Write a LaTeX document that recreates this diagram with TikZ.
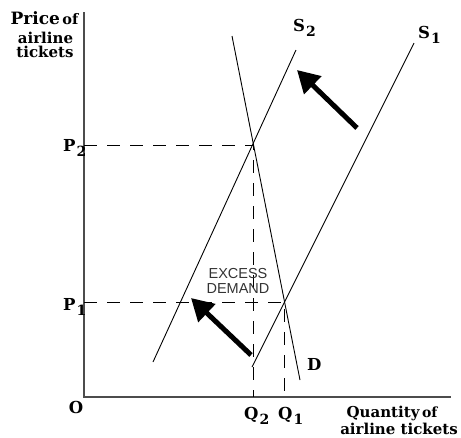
\documentclass[tikz,border=0pt]{standalone}
\usepackage{fontspec}
\setmainfont{DejaVu Serif}
\newfontfamily\sansf{Liberation Sans}
\usetikzlibrary{arrows.meta}
\newcommand\subl[2]{#1\kern1pt\raisebox{-5.5pt}{\fontsize{14}{14}\selectfont #2}}
\begin{document}
\begin{tikzpicture}[x=1pt,y=-1pt,
  axis/.style={draw=black!70,line width=2pt},
  curve/.style={draw=black,line width=0.9pt},
  guide/.style={draw=black,line width=1pt,dash pattern=on 13pt off 10pt},
  bigarrow/.style={draw=black,fill=black,line width=5pt,-{Triangle[length=22pt,width=24pt]}},
  lab/.style={font=\fontsize{16.5}{16.5}\selectfont\bfseries,inner sep=0pt},
  axlab/.style={font=\fontsize{15}{15}\selectfont\bfseries,inner sep=0pt,anchor=base},
  note/.style={font=\sansf\fontsize{14.5}{15}\selectfont,text=black!80,align=center,inner sep=0pt}]
\useasboundingbox (0,0) rectangle (461,437);
% axes
\coordinate (ytop) at (84,12);
\coordinate (O) at (84,397);
\coordinate (xend) at (451,397);
\draw[axis] (ytop) -- (O) -- (xend);
% curves
\coordinate (Dt) at (232,36);
\coordinate (Db) at (300,380);
\coordinate (S2t) at (296,50);
\coordinate (S2b) at (153,362);
\coordinate (S1t) at (414,43);
\coordinate (S1b) at (252,367);
\coordinate (E2) at (253,145);
\coordinate (E1) at (284,302);
\coordinate (P2a) at (84,145);
\coordinate (P1a) at (84,302);
\coordinate (Q2a) at (253,397);
\coordinate (Q1a) at (284,397);
\draw[guide] (P2a) -- (E2) -- (Q2a);
\draw[guide] (P1a) -- (E1) -- (Q1a);
\draw[curve] (Dt) -- (Db);
\draw[curve] (S2t) -- (S2b);
\draw[curve] (S1t) -- (S1b);
% arrows
\coordinate (A1s) at (357,128);
\coordinate (A1e) at (297,70);
\coordinate (A2s) at (251,355);
\coordinate (A2e) at (191,298);
\draw[bigarrow] (A1s) -- (A1e);
\draw[bigarrow] (A2s) -- (A2e);
% labels
\node[axlab] (yl1) at (44.5,24) {{\fontsize{17}{17}\selectfont Price}\,{\fontsize{14.5}{14.5}\selectfont of}};
\node[axlab] (yl2) at (45.5,43) {airline};
\node[axlab] (yl3) at (45,57) {tickets};
\node[lab,anchor=base west] (P2) at (63,151) {\subl{P}{2}};
\node[lab,anchor=base west] (P1) at (63,310) {\subl{P}{1}};
\node[lab,anchor=base] (Ol) at (76,413) {O};
\node[lab,anchor=base west] (Q2) at (244,419) {\subl{Q}{2}};
\node[lab,anchor=base west] (Q1) at (278,419) {\subl{Q}{1}};
\node[lab,anchor=base west] (S2) at (293,31) {\subl{S}{2}};
\node[lab,anchor=base west] (S1) at (418,38) {\subl{S}{1}};
\node[lab,anchor=base west] (Dl) at (307,370) {D};
\node[axlab] (xl1) at (392,417) {Quantity\,{\fontsize{14}{14}\selectfont of}};
\node[axlab] (xl2) at (399,434) {airline tickets};
\node[note] (ed) at (238,281) {EXCESS\\DEMAND};
\end{tikzpicture}
\end{document}
